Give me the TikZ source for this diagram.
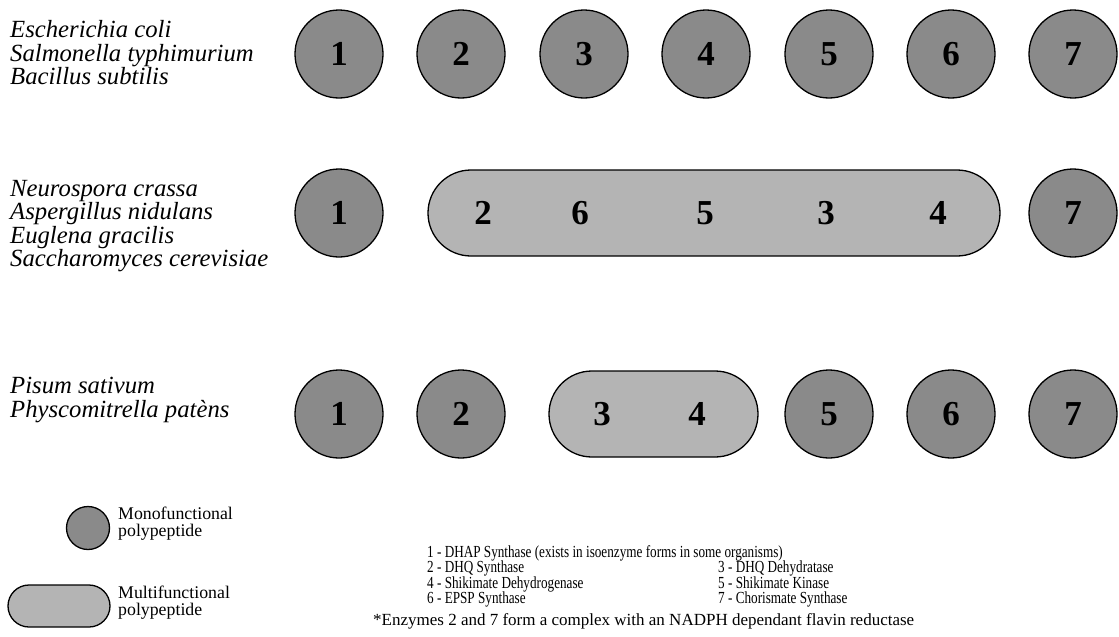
\documentclass[tikz,border=0pt]{standalone}
\usepackage{fontspec}
\setmainfont{Liberation Serif}
\newfontfamily\narrowfont{Liberation Serif}[FakeStretch=0.78]
\definecolor{monogray}{HTML}{8A8A8A}
\definecolor{multigray}{HTML}{B4B4B4}
\begin{document}
\begin{tikzpicture}[x=1pt,y=-1pt,
  mono/.style={circle,draw=black,line width=1.3pt,fill=monogray,minimum size=88pt,inner sep=0pt,font=\fontsize{35}{35}\selectfont\bfseries},
  multi/.style={rectangle,rounded corners=43pt,draw=black,line width=1.3pt,fill=multigray,minimum height=86pt,inner sep=0pt},
  num/.style={inner sep=0pt,font=\fontsize{35}{35}\selectfont\bfseries},
  species/.style={anchor=base west,inner sep=0pt,font=\fontsize{24.7}{24.7}\selectfont\itshape},
  legend/.style={anchor=base west,inner sep=0pt,font=\fontsize{17.8}{17.8}\selectfont},
  key/.style={anchor=base west,inner sep=0pt,font=\fontsize{16.9}{16.9}\narrowfont},
  foot/.style={anchor=base west,inner sep=0pt,font=\fontsize{17}{17}\selectfont}]
\useasboundingbox (0,0) rectangle (1119,637);
\fill[white] (0,0) rectangle (1119,637);
% ---- row 1
\node[species] (s11) at (10,37) {Escherichia coli};
\node[species] (s12) at (10,61) {Salmonella typhimurium};
\node[species] (s13) at (10,84) {Bacillus subtilis};
\node[mono] (a1) at (339,54) {1};
\node[mono] (a2) at (461,54) {2};
\node[mono] (a3) at (584,54) {3};
\node[mono] (a4) at (706,54) {4};
\node[mono] (a5) at (829,54) {5};
\node[mono] (a6) at (951,54) {6};
\node[mono] (a7) at (1073,54) {7};
% ---- row 2
\node[species] (s21) at (10,196) {Neurospora crassa};
\node[species] (s22) at (10,219.5) {Aspergillus nidulans};
\node[species] (s23) at (10,243) {Euglena gracilis};
\node[species] (s24) at (10,266.5) {Saccharomyces cerevisiae};
\node[mono] (b1) at (339,213) {1};
\node[multi,minimum width=572pt] (bm) at (714,213) {};
\node[num] (b2) at (483,213) {2};
\node[num] (b6) at (580,213) {6};
\node[num] (b5) at (705,213) {5};
\node[num] (b3) at (826,213) {3};
\node[num] (b4) at (938,213) {4};
\node[mono] (b7) at (1073,213) {7};
% ---- row 3
\node[species] (s31) at (10,393) {Pisum sativum};
\node[species] (s32) at (10,417) {Physcomitrella pat\`ens};
\node[mono] (c1) at (339,414) {1};
\node[mono] (c2) at (461,414) {2};
\node[multi,minimum width=209pt] (cm) at (653.5,414) {};
\node[num] (c3) at (602,414) {3};
\node[num] (c4) at (697,414) {4};
\node[mono] (c5) at (829,414) {5};
\node[mono] (c6) at (951,414) {6};
\node[mono] (c7) at (1073,414) {7};
% ---- legend
\node[mono,minimum size=43pt] (lm) at (88,528) {};
\node[legend] (lt1) at (118,519) {Monofunctional};
\node[legend] (lt2) at (118,536) {polypeptide};
\node[multi,minimum width=102pt,minimum height=42pt,rounded corners=21pt] (lx) at (59,606) {};
\node[legend] (lt3) at (118,598) {Multifunctional};
\node[legend] (lt4) at (118,615) {polypeptide};
% ---- key
\node[key] (k1) at (427,557) {1 - DHAP Synthase (exists in isoenzyme forms in some organisms)};
\node[key] (k2) at (427,572.5) {2 - DHQ Synthase};
\node[key] (k3) at (718,572.5) {3 - DHQ Dehydratase};
\node[key] (k4) at (427,588) {4 - Shikimate Dehydrogenase};
\node[key] (k5) at (718,588) {5 - Shikimate Kinase};
\node[key] (k6) at (427,603) {6 - EPSP Synthase};
\node[key] (k7) at (718,603) {7 - Chorismate Synthase};
\node[foot] (kf) at (373,625) {*Enzymes 2 and 7 form a complex with an NADPH dependant flavin reductase};
\end{tikzpicture}
\end{document}
